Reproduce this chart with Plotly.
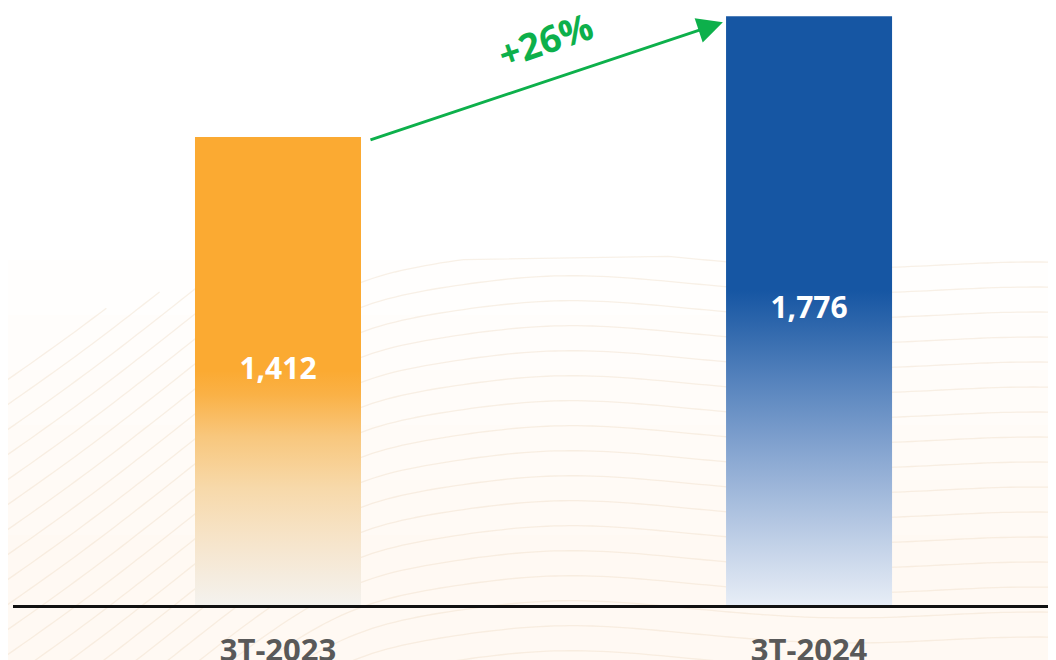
import plotly.graph_objects as go
import numpy as np

categories = ["3T-2023", "3T-2024"]
values = [1412, 1776]
value_labels = ["1,412", "1,776"]
growth_label = "+26%"

orange_scale = [[0.0, "#F4F2EE"], [0.12, "#F6E6CF"], [0.25, "#F7D9AA"], [0.36, "#F8C77D"],
                [0.45, "#FAB146"], [0.50, "#FBAA32"], [1.0, "#FBAA32"]]
blue_scale = [[0.0, "#E7EDF6"], [0.1, "#C3D2E8"], [0.25, "#8AA8D2"], [0.38, "#5683BD"],
              [0.48, "#2C65AB"], [0.535, "#1656A3"], [1.0, "#1656A3"]]
scales = [orange_scale, blue_scale]

pos = [0, 1]
bw = 0.3126
green = "#0DB04B"

fig = go.Figure()

# ---- decorative background (cream tint + faint wavy lines) ----
def to_paper(px, py):
    return (px - 13) / 1043, (605 - py) / 597

for j in range(6):
    top = 260 + j * 55
    _, y1 = to_paper(0, top)
    fig.add_shape(type="rect", xref="paper", yref="paper", x0=-0.013, x1=1.01, y0=-0.1, y1=y1,
                  fillcolor="rgba(251,238,220,0.06)", line=dict(width=0), layer="below")

gx = np.linspace(0, 1056, 140)
shape_fn = (0.75 * 40 * np.log1p(np.exp((360 - gx) / 40))
            - 15 * np.exp(-((gx - 540) / 130) ** 2)
            + 3 * np.sin(gx / 60))
thr = 255 + 110 * np.exp(-gx / 140)
for b in range(-160, 740, 25):
    gy = b + shape_fn
    keep = gy > thr
    if keep.sum() < 2:
        continue
    pts = [to_paper(a, c) for a, c in zip(gx[keep], gy[keep])]
    path = "M " + " L ".join(f"{a:.4f},{c:.4f}" for a, c in pts)
    fig.add_shape(type="path", path=path, xref="paper", yref="paper",
                  line=dict(color="rgba(234,212,186,0.33)", width=1.3), layer="below")

# ---- bars (vertical gradient fills) ----
for i, v in enumerate(values):
    x0, x1 = pos[i] - bw / 2, pos[i] + bw / 2
    fig.add_trace(go.Scatter(
        x=[x0, x1, x1, x0, x0], y=[0, 0, v, v, 0],
        mode="lines", fill="toself", line=dict(width=0),
        fillgradient=dict(type="vertical", colorscale=scales[i], start=0, stop=v),
        hoverinfo="skip", showlegend=False))

fig.add_trace(go.Scatter(
    x=pos, y=[v / 2 for v in values], mode="text", text=value_labels,
    textposition="middle center",
    textfont=dict(family="Open Sans", size=30, color="white", weight="bold"),
    showlegend=False, hoverinfo="skip"))

# ---- growth arrow ----
gap = 0.015
fig.add_annotation(
    x=pos[1] - bw / 2 - 0.006, y=values[1] - 18, ax=pos[0] + bw / 2 + gap, ay=values[0] - 10,
    xref="x", yref="y", axref="x", ayref="y", text="", showarrow=True,
    arrowhead=2, arrowsize=1.7, arrowwidth=3, arrowcolor=green, standoff=0)
fig.add_annotation(
    x=0.503, y=1705, xref="x", yref="y", text=growth_label, showarrow=False,
    textangle=-19, font=dict(family="Open Sans", size=37, color=green, weight="bold"))

fig.update_layout(
    width=1048, height=652,
    margin=dict(l=5, r=0, t=0, b=55),
    paper_bgcolor="#FFFFFF", plot_bgcolor="rgba(0,0,0,0)",
    xaxis=dict(range=[-0.499, 1.465], tickvals=pos, ticktext=categories,
               showgrid=False, zeroline=False, showline=True, linecolor="#111111",
               linewidth=2.5, ticks="", automargin=False, ticklabelstandoff=16,
               tickfont=dict(family="Open Sans", size=31, color="#595959", weight="bold")),
    yaxis=dict(range=[0, 1801.2], visible=False, showgrid=False, zeroline=False,
               automargin=False),
)

fig.write_html("out.html")
